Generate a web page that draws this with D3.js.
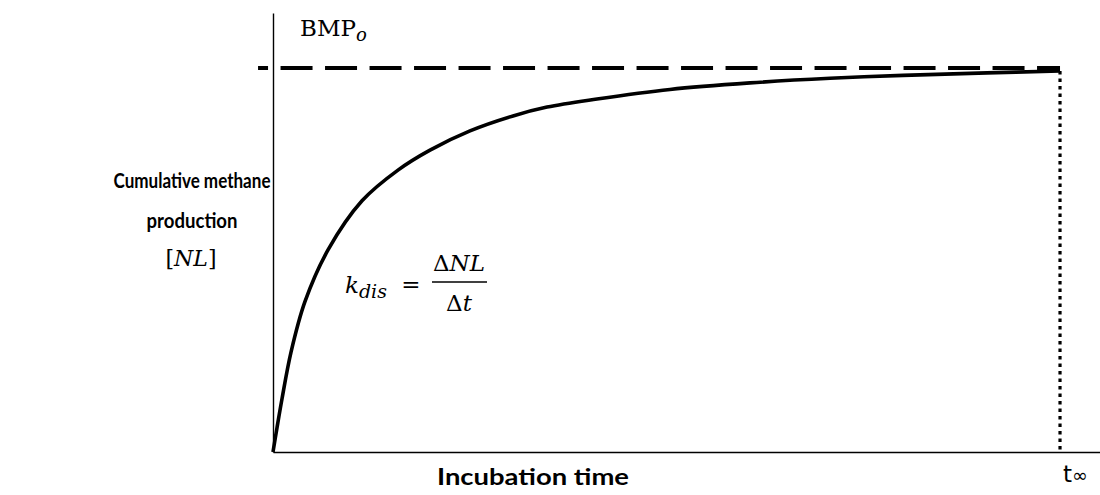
<!DOCTYPE html>
<html><head><meta charset="utf-8">
<script src="https://cdn.jsdelivr.net/npm/d3@7"></script>
<style>body{margin:0;background:#fff}</style>
</head><body>
<svg id="c" width="1100" height="495"></svg>
<script>
// Incubation time (arbitrary units, t_inf = 100) and cumulative methane (% of BMP_o)
const time    = [0, 0.5, 1.14, 2.29, 4.07, 6.99, 11.31, 15.88, 19.95, 25.03, 30.5, 34.82, 41.17, 50.44, 60.61, 70.78, 80.05, 90.72, 100];
const methane = [0, 6.2, 13.8, 26.0, 39.2, 52.6, 65.4, 73.4, 78.6, 83.6, 87.5, 89.8, 91.9, 94.4, 96.1, 97.3, 98.05, 98.7, 99.2];
const bmpLevel = 100;
const tInf = 100;
const yLabelLines = ["Cumulative methane", "production"];
const xLabel = "Incubation time";

const svg = d3.select("#c");
const x = d3.scaleLinear().domain([0, 105.08]).range([273, 1100]);
const y = d3.scaleLinear().domain([0, 114.3]).range([452, 13]);

// axes (no ticks)
svg.append("g").attr("transform", `translate(0,${y(0)})`)
  .call(d3.axisBottom(x).tickValues([]).tickSizeOuter(0))
  .select(".domain").attr("stroke", "#000").attr("stroke-width", 1.4);
svg.append("g").attr("transform", `translate(${x(0)},0)`)
  .call(d3.axisLeft(y).tickValues([]).tickSizeOuter(0))
  .select(".domain").attr("stroke", "#000").attr("stroke-width", 1.4);

// BMP_o dashed asymptote
svg.append("line")
  .attr("x1", x(-1.9)).attr("x2", x(tInf))
  .attr("y1", y(bmpLevel)).attr("y2", y(bmpLevel))
  .attr("stroke", "#000").attr("stroke-width", 4)
  .attr("stroke-dasharray", "32,12.5").attr("stroke-dashoffset", 22);

// dotted t_inf line
svg.append("line")
  .attr("x1", x(tInf)).attr("x2", x(tInf))
  .attr("y1", y(methane[methane.length-1])).attr("y2", y(0))
  .attr("stroke", "#000").attr("stroke-width", 3.2)
  .attr("stroke-dasharray", "3.5,4");

// curve
const line = d3.line().x((d,i)=>x(time[i])).y(d=>y(d)).curve(d3.curveCatmullRom.alpha(0.5));
svg.append("path").attr("d", line(methane))
  .attr("fill", "none").attr("stroke", "#000").attr("stroke-width", 3.6);

const serif = "'DejaVu Serif', serif";
const sans = "Lato, 'Open Sans', sans-serif";

// BMP_o label
const bmp = svg.append("text").attr("x", 300).attr("y", 36)
  .attr("font-family", serif).attr("font-size", 23).attr("fill", "#000");
bmp.append("tspan").text("BMP");
bmp.append("tspan").attr("font-style", "italic").attr("font-size", 18).attr("dy", 5).text("o");

// y label
const yLabelWidths = [157, 91];
svg.selectAll("text.ylab").data(yLabelLines).enter().append("text")
  .attr("class", "ylab")
  .attr("x", 192).attr("y", (d,i)=>188 + i*40)
  .attr("text-anchor", "middle")
  .attr("font-family", sans).attr("font-weight", "bold").attr("font-size", 20)
  .attr("textLength", (d,i)=>yLabelWidths[i]).attr("lengthAdjust", "spacingAndGlyphs")
  .attr("fill", "#000").text(d=>d);

// [NL]
const nl = svg.append("text").attr("x", 191).attr("y", 266)
  .attr("text-anchor", "middle")
  .attr("font-family", serif).attr("font-size", 22).attr("fill", "#000");
nl.append("tspan").text("[");
nl.append("tspan").attr("font-style", "italic").text("NL");
nl.append("tspan").text("]");

// k_dis formula
const k = svg.append("text").attr("x", 345).attr("y", 293)
  .attr("font-family", serif).attr("font-size", 23).attr("fill", "#000");
k.append("tspan").attr("font-style", "italic").text("k");
k.append("tspan").attr("font-style", "italic").attr("font-size", 19).attr("dy", 5).text("dis");
svg.append("text").attr("x", 411).attr("y", 292).attr("text-anchor", "middle")
  .attr("font-family", serif).attr("font-size", 23).text("=");
const num = svg.append("text").attr("x", 459).attr("y", 271).attr("text-anchor", "middle")
  .attr("font-family", serif).attr("font-size", 23);
num.append("tspan").text("Δ");
num.append("tspan").attr("font-style", "italic").text("NL");
svg.append("line").attr("x1", 432).attr("x2", 487).attr("y1", 282).attr("y2", 282)
  .attr("stroke", "#000").attr("stroke-width", 1.5);
const den = svg.append("text").attr("x", 459).attr("y", 311).attr("text-anchor", "middle")
  .attr("font-family", serif).attr("font-size", 23);
den.append("tspan").text("Δ");
den.append("tspan").attr("font-style", "italic").text("t");

// x label
svg.append("text").attr("x", 533).attr("y", 485).attr("text-anchor", "middle")
  .attr("font-family", sans).attr("font-weight", "bold").attr("font-size", 23.5)
  .attr("textLength", 192).attr("lengthAdjust", "spacingAndGlyphs")
  .attr("fill", "#000").text(xLabel);

// t_inf
const ti = svg.append("text").attr("x", 1063).attr("y", 482)
  .attr("font-family", "'DejaVu Sans', sans-serif").attr("font-size", 23).attr("fill", "#000");
ti.append("tspan").text("t");
ti.append("tspan").attr("font-size", 19).text("∞");
</script>
</body></html>
